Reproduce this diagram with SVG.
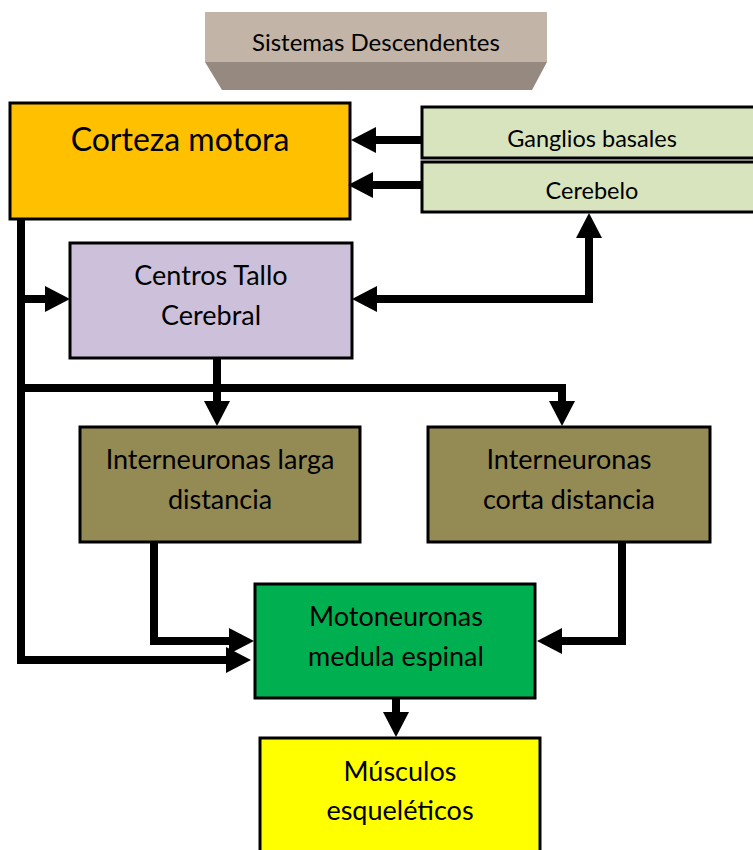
<svg xmlns="http://www.w3.org/2000/svg" width="753" height="850" viewBox="0 0 753 850">
<style>
  .box{stroke:#000;stroke-width:3}
  .t{font-family:Lato,"Open Sans","Liberation Sans",sans-serif;fill:#000;text-anchor:middle}
  .m{font-size:27px}
  .l{fill:none;stroke:#000;stroke-width:8;stroke-linejoin:miter}
</style>
<defs>
  <marker id="ah" markerUnits="userSpaceOnUse" markerWidth="26" markerHeight="26" refX="0" refY="13" orient="auto-start-reverse" overflow="visible">
    <path d="M0,0 L25,13 L0,26 Z" fill="#000"/>
  </marker>
  <clipPath id="gclip"><rect x="422" y="105" width="340" height="46"/></clipPath>
</defs>
<rect width="753" height="850" fill="#fff"/>

<g id="titulo">
  <polygon points="205,62 547,62 532,90 222,90" fill="#968a80"/>
  <rect x="205" y="12" width="342" height="50" fill="#c3b4a8"/>
  <text class="t" x="376" y="51" font-size="24">Sistemas Descendentes</text>
</g>

<g id="corteza">
  <rect class="box" x="10" y="103" width="340" height="116" fill="#ffc000"/>
  <text class="t" x="180" y="151" font-size="32">Corteza motora</text>
</g>

<g id="ganglios">
  <rect class="box" x="422" y="107" width="340" height="51" fill="#d7e4bd"/>
  <text class="t" x="592" y="147" font-size="23.5" clip-path="url(#gclip)">Ganglios basales</text>
</g>

<g id="cerebelo">
  <rect class="box" x="422" y="162" width="340" height="50" fill="#d7e4bd"/>
  <text class="t" x="592" y="199" font-size="23.5">Cerebelo</text>
</g>

<g id="centros">
  <rect class="box" x="70" y="243" width="282" height="115" fill="#ccc0da"/>
  <text class="t m" x="211" y="285">Centros Tallo</text>
  <text class="t m" x="211" y="325">Cerebral</text>
</g>

<g id="larga">
  <rect class="box" x="80" y="427" width="280" height="115" fill="#948a54"/>
  <text class="t m" x="220" y="469">Interneuronas larga</text>
  <text class="t m" x="220" y="509">distancia</text>
</g>

<g id="corta">
  <rect class="box" x="428" y="427" width="282" height="115" fill="#948a54"/>
  <text class="t m" x="569" y="469">Interneuronas</text>
  <text class="t m" x="569" y="509">corta distancia</text>
</g>

<g id="motoneuronas">
  <rect class="box" x="255" y="584" width="280" height="114" fill="#00b050"/>
  <text class="t m" x="396" y="626">Motoneuronas</text>
  <text class="t m" x="396" y="666">medula espinal</text>
</g>

<g id="musculos">
  <rect class="box" x="260" y="738" width="280" height="120" fill="#ffff00"/>
  <text class="t m" x="400" y="781">Músculos</text>
  <text class="t m" x="400" y="820">esqueléticos</text>
</g>

<g id="conectores">
  <path class="l" d="M422,140 H376" marker-end="url(#ah)"/>
  <path class="l" d="M422,185 H373" marker-end="url(#ah)"/>
  <path class="l" d="M21,219 V660 H226" marker-end="url(#ah)"/>
  <path class="l" d="M21,299 H45" marker-end="url(#ah)"/>
  <path class="l" d="M377,299 H589 V238" marker-start="url(#ah)" marker-end="url(#ah)"/>
  <path class="l" d="M21,388 H562 V401" marker-end="url(#ah)"/>
  <path class="l" d="M217,358 V401" marker-end="url(#ah)"/>
  <path class="l" d="M154,542 V641 H229" marker-end="url(#ah)"/>
  <path class="l" d="M622,542 V641 H562" marker-end="url(#ah)"/>
  <path class="l" d="M396,698 V712" marker-end="url(#ah)"/>
</g>
</svg>
